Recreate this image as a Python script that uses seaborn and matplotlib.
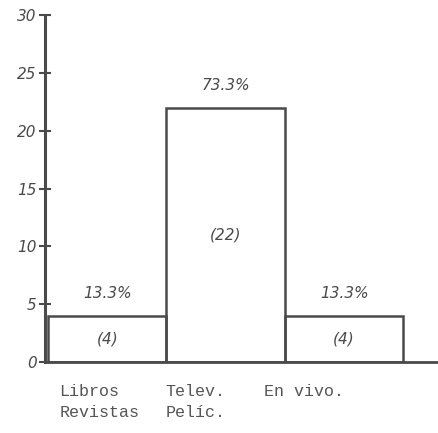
import numpy as np
import pandas as pd
import seaborn as sns
import matplotlib.pyplot as plt
from matplotlib.transforms import ScaledTranslation

# data
categories = ['Libros\nRevistas', 'Telev.\nPelíc.', 'En vivo.']
counts = [4, 22, 4]
percents = ['13.3%', '73.3%', '13.3%']
y_ticks = [0, 5, 10, 15, 20, 25, 30]

df = pd.DataFrame({'medio': categories, 'n': counts})

sns.set_theme(style='white')
ink = '#4a4a4a'

fig = plt.figure(figsize=(4.39, 4.33), dpi=100)
ax = fig.add_axes([0.1025, 0.164, 0.8975, 0.801])

sns.barplot(data=df, x='medio', y='n', fill=False, color=ink,
            width=1.0, linewidth=1.8, ax=ax)

# labels: percent above each bar, count in the middle
for i, (n, p) in enumerate(zip(counts, percents)):
    ax.text(i, n + 1.3, p, ha='center', va='bottom', fontsize=11,
            style='italic', color=ink)
    ax.text(i, n / 2, f'({n})', ha='center', va='center', fontsize=11,
            style='italic', color=ink)

ax.set_ylim(0, 30)
ax.set_xlim(-0.525, 2.8)
ax.set_yticks(y_ticks)
ax.set_yticklabels([str(t) for t in y_ticks], style='italic', fontsize=11, color=ink)
ax.tick_params(axis='y', direction='inout', length=8, width=1.5, color=ink, pad=2, left=True)
ax.tick_params(axis='x', length=0, pad=16)
ax.set_xlabel('')
ax.set_ylabel('')

# typewriter category labels, nudged left like the original
shifts = [-8, -30, -40]
for lab, dx in zip(ax.get_xticklabels(), shifts):
    lab.set_family('Liberation Mono')
    lab.set_fontsize(12)
    lab.set_color('#555555')
    lab.set_multialignment('left')
    lab.set_linespacing(1.5)
    lab.set_transform(lab.get_transform() + ScaledTranslation(dx / 100, 0, fig.dpi_scale_trans))

for s in ['top', 'right']:
    ax.spines[s].set_visible(False)
ax.spines['left'].set_color(ink)
ax.spines['left'].set_linewidth(2.2)
ax.spines['bottom'].set_color(ink)
ax.spines['bottom'].set_linewidth(2.0)

fig.savefig('out.png', dpi=100, facecolor='white')
